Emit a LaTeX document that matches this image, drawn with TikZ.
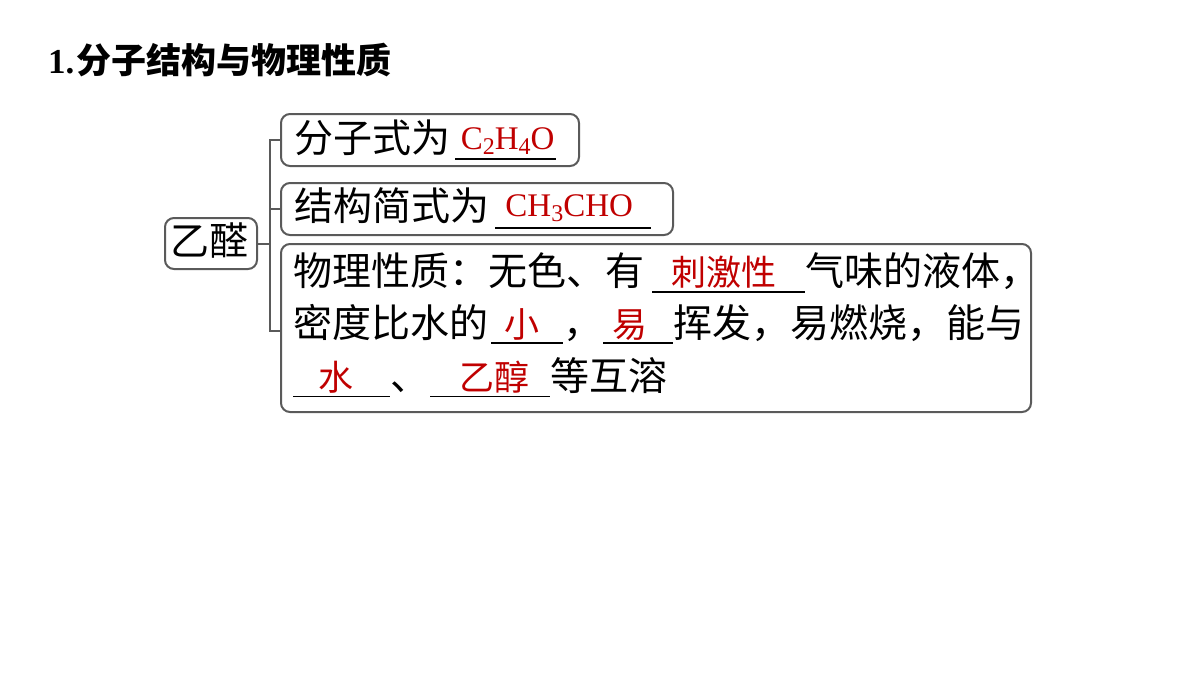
\documentclass[tikz,border=0pt]{standalone}
\usepackage{fontspec}
\setmainfont{Liberation Serif}
\newfontfamily\cjk{Noto Sans CJK SC}
\usetikzlibrary{calc}
\definecolor{ansred}{HTML}{C00000}
\definecolor{boxgray}{HTML}{5A5A5A}
% \fillin[shift]{width}{rule offset}{answer}
\newcommand\fillin[4][0pt]{\makebox[#2][c]{\hspace*{#1}\hspace*{#1}\textcolor{ansred}{#4}}\llap{\rule[-#3]{#2}{1.6pt}}}
\newcommand\redcjk{\fontsize{35}{35}\selectfont\cjk}
\newcommand\formula[2]{\raisebox{#1}{\rmfamily\fontsize{33}{33}\selectfont #2}}
\newcommand\sub[1]{\raisebox{-5pt}{\fontsize{24}{24}\selectfont #1}}
\begin{document}
\begin{tikzpicture}[x=1pt,y=-1pt,
 box/.style={draw=boxgray,line width=2pt,rounded corners=9pt,anchor=north west,inner sep=0pt},
 txt/.style={anchor=base west,inner sep=0pt,font=\fontsize{39}{39}\selectfont\cjk},
 link/.style={draw=boxgray,line width=2pt}]
\useasboundingbox (0,0) rectangle (1200,675);
\fill[white] (0,0) rectangle (1200,675);

\node[anchor=base west,inner sep=0pt] (title) at (48,73)
  {\fontsize{35}{35}\selectfont\bfseries 1.\hspace{2pt}{\cjk 分子结构与物理性质}};

\node[box,minimum width=92pt,minimum height=51pt] (b0) at (164,217) {};
\node[box,minimum width=298pt,minimum height=52pt] (b1) at (280,113) {};
\node[box,minimum width=392pt,minimum height=52pt] (b2) at (280,182) {};
\node[box,minimum width=750pt,minimum height=168pt] (b3) at (280,243) {};

\node[txt] (t0) at (170,255) {乙醛};
\node[txt] (t1) at (294,152) {分子式为\hspace{5pt}\fillin[2pt]{101pt}{7.8pt}{\formula{3pt}{C\sub{2}H\sub{4}O}}};
\node[txt] (t2) at (294,220) {结构简式为\hspace{6pt}\fillin[-4pt]{156pt}{8.8pt}{\formula{4pt}{CH\sub{3}CHO}}};
\node[txt] (l1) at (293,285) {物理性质：无色、有\hspace{8pt}\fillin[-5pt]{153pt}{7.8pt}{\redcjk 刺激性}气味的液体，};
\node[txt] (l2) at (293,337) {密度比水的\hspace{3pt}\fillin[-5pt]{72pt}{6.8pt}{\redcjk 小}，\hspace{1pt}\fillin[-8pt]{70pt}{6.8pt}{\redcjk 易}挥发，易燃烧，能与};
\node[txt] (l3) at (293,390) {\fillin[-6pt]{97pt}{7.3pt}{\redcjk 水}、\hspace{1pt}\fillin[4pt]{120pt}{7.3pt}{\redcjk 乙醇}等互溶};

\coordinate (j) at ($(b0.east)+(12,0)$);
\coordinate (e3) at ($(b3.west)+(0,3)$);
\draw[link] (b0.east) -- (j);
\draw[link] (b1.west) -| (j) |- (e3);
\draw[link] (b2.west) -- (b2.west -| j);
\end{tikzpicture}
\end{document}
